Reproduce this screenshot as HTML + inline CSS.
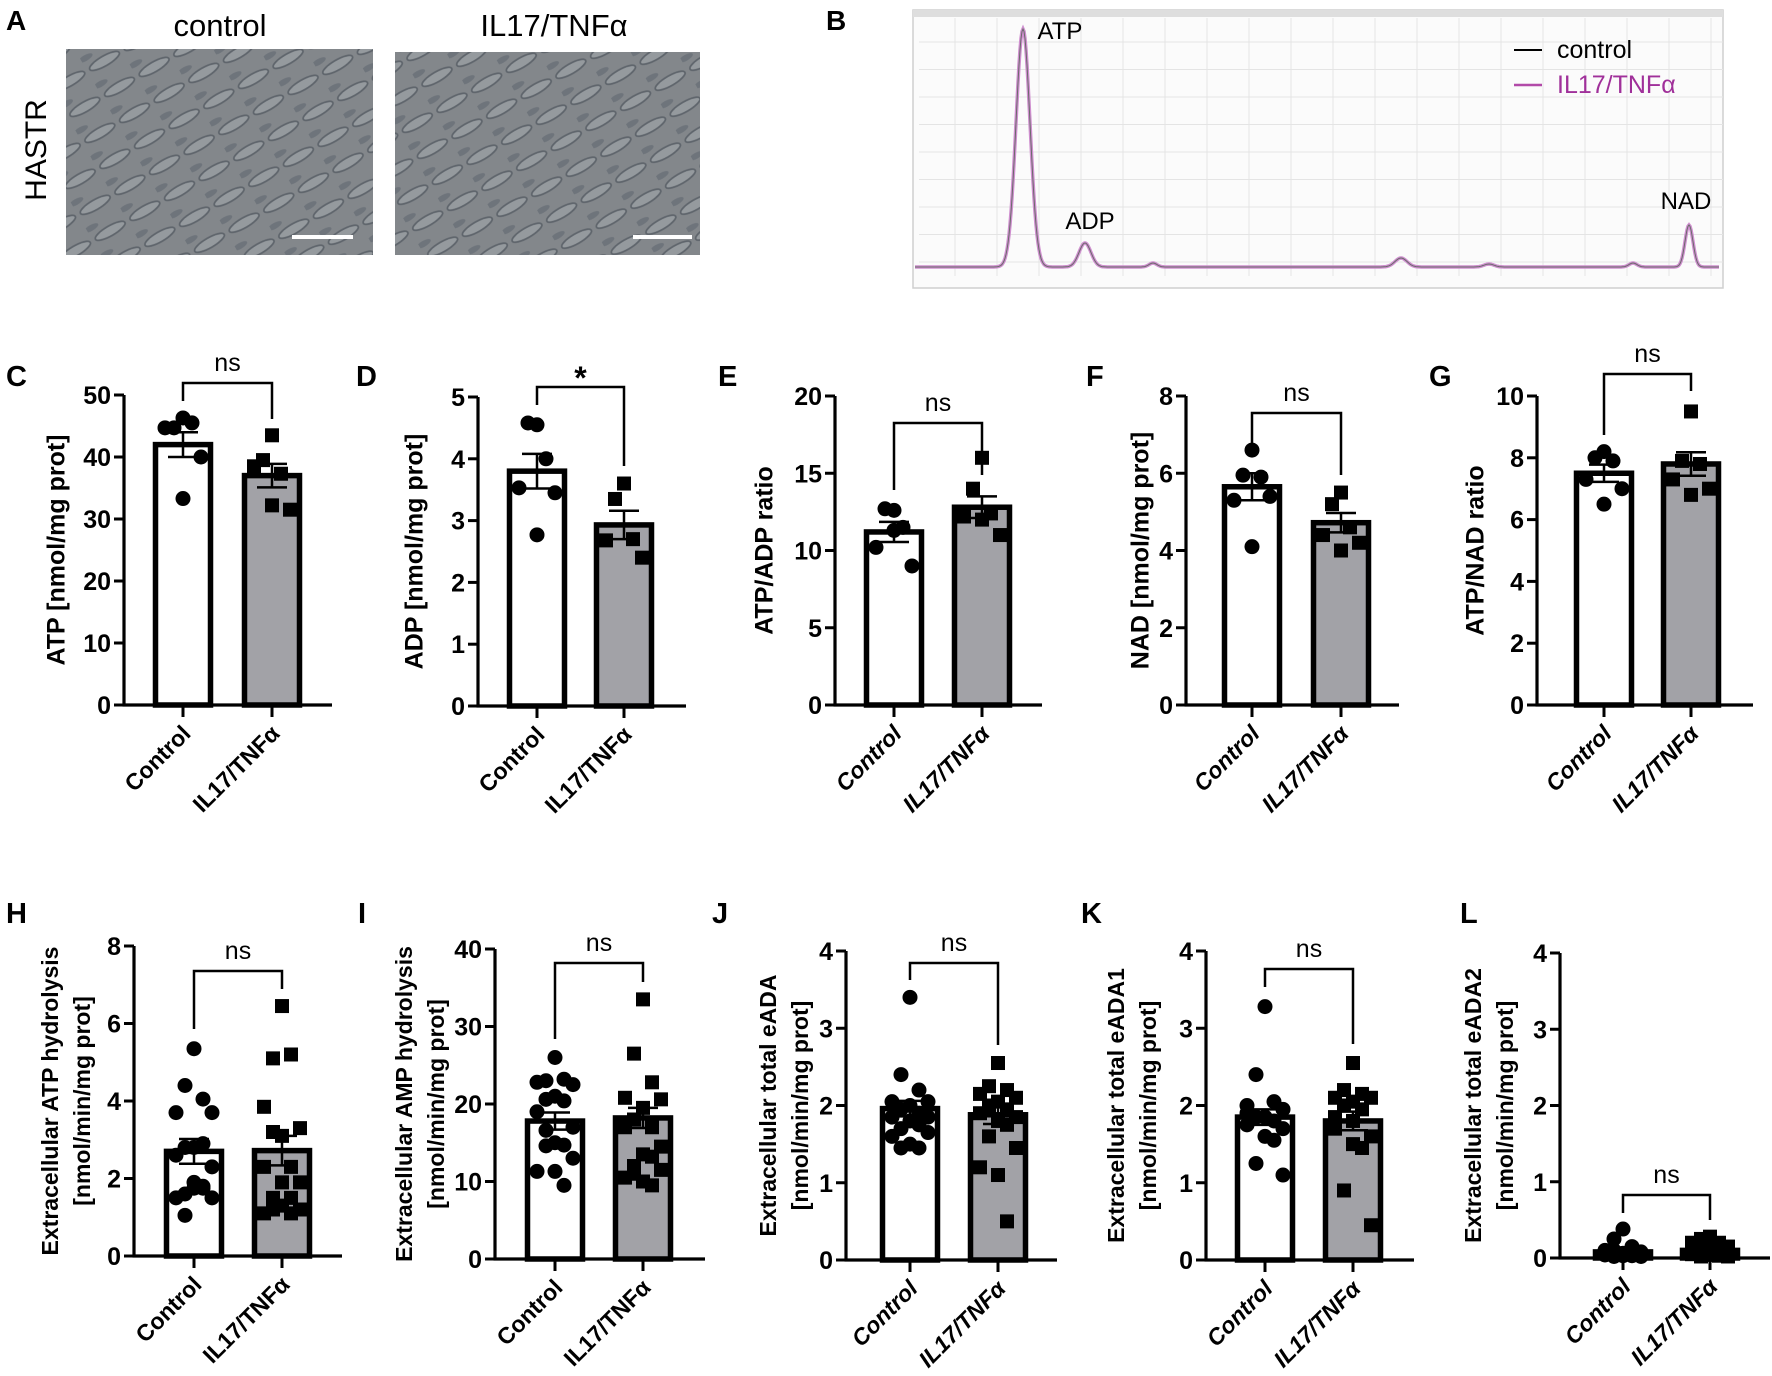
<!DOCTYPE html>
<html><head><meta charset="utf-8"><style>
body{margin:0;background:#fff}
svg{display:block}
text{font-family:"Liberation Sans",Arial,sans-serif}
</style></head><body>
<svg id="fig" width="1772" height="1376" viewBox="0 0 1772 1376" xmlns="http://www.w3.org/2000/svg">
<defs>
<pattern id="cells" width="40" height="30" patternUnits="userSpaceOnUse" patternTransform="rotate(-30)">
<rect width="40" height="30" fill="#83878b"/>
<ellipse cx="20" cy="15" rx="17" ry="5" fill="#959a9e" stroke="#5f656c" stroke-width="1.8"/>
<ellipse cx="5" cy="3" rx="8" ry="3" fill="#6e747b"/>
</pattern>
</defs>
<g id="panelA">
<text x="6" y="30" font-size="28" font-weight="bold">A</text>
<text x="220" y="36" font-size="31" text-anchor="middle">control</text>
<text x="554" y="36" font-size="31" text-anchor="middle">IL17/TNFα</text>
<text transform="translate(46,150) rotate(-90)" font-size="30" text-anchor="middle">HASTR</text>
<rect x="66" y="49" width="307" height="206" fill="url(#cells)"/>
<rect x="395" y="52" width="305" height="203" fill="url(#cells)"/>
<rect x="292" y="235" width="61" height="4" fill="#fff"/>
<rect x="633" y="235" width="59" height="4" fill="#fff"/>
</g>
<g id="panelB">
<text x="826" y="30" font-size="28" font-weight="bold">B</text>
</g>
<g id="charts"></g>
</svg>
<script>
// ---- chromatogram data ----
const peakPos=[1023,1085,1153,1401,1489,1633,1689];
const peakHeight=[238,24,4,9,3,4,42];
const peakWidth=[7,6,4,6,5,4,4];
// ---- bar chart data ----
const panelNames=["C","D","E","F","G","H","I","J","K","L"];
const yTitles=[["ATP [nmol/mg prot]"],["ADP [nmol/mg prot]"],["ATP/ADP ratio"],["NAD [nmol/mg prot]"],["ATP/NAD ratio"],
["Extracellular ATP hydrolysis","[nmol/min/mg prot]"],["Extracellular AMP hydrolysis","[nmol/min/mg prot]"],
["Extracellular total eADA","[nmol/min/mg prot]"],["Extracellular total eADA1","[nmol/min/mg prot]"],["Extracellular total eADA2","[nmol/min/mg prot]"]];
const yMax=[50,5,20,8,10,8,40,4,4,4];
const yStep=[10,1,5,2,2,2,10,1,1,1];
const sigLabels=["ns","*","ns","ns","ns","ns","ns","ns","ns","ns"];
const categories=["Control","IL17/TNFα"];
const ctrlMean=[42,3.8,11.2,5.65,7.5,2.7,17.8,1.96,1.85,0.08];
const ilMean=[37,2.93,12.8,4.72,7.8,2.72,18.2,1.88,1.8,0.1];
const ctrlErr=[2,0.28,0.65,0.35,0.28,0.32,1.1,0.1,0.1,0.03];
const ilErr=[1.9,0.23,0.7,0.25,0.38,0.38,1.3,0.12,0.12,0.03];
const ctrlPts=[
[46.3,44.7,45.5,44.7,40,33.3],
[4.55,4.58,4.0,3.53,3.45,2.77],
[12.6,12.7,11.5,10.2,9.0,11.3],
[6.6,5.95,5.9,5.3,5.4,4.1],
[8.2,8.0,7.9,7.3,7.0,6.5],
[5.35,4.4,4.05,3.7,3.7,2.8,2.8,2.9,2.6,2.3,1.75,1.75,1.6,1.5,1.5,1.9,1.8,1.05],
[26,23,23.2,22.8,22.5,21,20.6,20.4,19,17,15,14.7,14.6,13,11.3,11.3,9.5,16.6],
[3.4,2.4,2.2,2.05,2.05,2.0,1.95,1.9,1.85,1.85,1.8,1.75,1.7,1.65,1.6,1.5,1.45,1.45],
[3.28,2.4,2.05,2.0,1.95,1.85,1.85,1.8,1.75,1.7,1.6,1.55,1.25,1.1,1.9,1.85],
[0.38,0.25,0.15,0.1,0.08,0.06,0.05,0.05,0.04,0.04,0.03,0.03,0.02,0.02,0.05,0.06,0.08,0.1]];
const ilPts=[
[43.5,39.5,37.3,38.5,31.5,32.2],
[3.6,3.35,2.7,2.68,2.4],
[16,14,12.4,12.2,11,12],
[5.5,5.2,4.6,4.4,4.2,4.0],
[9.5,7.9,7.8,7.3,7.0,6.8],
[6.45,5.1,5.2,3.85,3.3,3.1,3.2,2.3,2.3,1.9,1.9,1.5,1.5,1.2,1.1,1.3,1.1,1.2],
[33.5,26.5,22.8,20.8,20.6,19.5,18,17,17,14.5,13.5,13.2,12,11.5,10.5,10,9.5,11],
[2.55,2.25,2.2,2.15,2.1,2.05,2.0,1.95,1.9,1.85,1.8,1.75,1.6,1.45,1.2,1.1,0.5,2.0],
[2.55,2.2,2.15,2.1,2.1,2.05,2.0,1.95,1.7,1.6,1.5,1.45,0.9,0.45,1.85,1.8],
[0.28,0.25,0.2,0.2,0.15,0.12,0.1,0.08,0.06,0.05,0.04,0.03,0.02,0.02,0.05,0.06,0.1,0.12]];
// ---- layout (pixels) ----
const L=[
{ax:124,c1:183,c2:272,r:332,y0:705,yt:395,lx:6,ly:386,tx:58,bt:383,bl:401,br:419,it:false},
{ax:478,c1:537,c2:624,r:686,y0:706,yt:397,lx:356,ly:386,tx:416,bt:387,bl:405,br:466,it:false},
{ax:835,c1:894,c2:982,r:1042,y0:705,yt:396,lx:718,ly:386,tx:766,bt:423,bl:490,br:475,it:true},
{ax:1186,c1:1252,c2:1341,r:1399,y0:705,yt:396,lx:1086,ly:386,tx:1142,bt:413,bl:447,br:475,it:true},
{ax:1537,c1:1604,c2:1691,r:1753,y0:705,yt:396,lx:1429,ly:386,tx:1477,bt:374,bl:435,br:391,it:true},
{ax:134,c1:194,c2:282,r:342,y0:1256,yt:946,lx:6,ly:923,tx:52,bt:971,bl:1029,br:989,it:false},
{ax:495,c1:555,c2:643,r:705,y0:1259,yt:949,lx:358,ly:923,tx:406,bt:963,bl:1039,br:982,it:false},
{ax:846,c1:910,c2:998,r:1057,y0:1260,yt:951,lx:712,ly:923,tx:770,bt:963,bl:980,br:1045,it:true},
{ax:1206,c1:1265,c2:1353,r:1414,y0:1260,yt:951,lx:1081,ly:923,tx:1118,bt:969,bl:987,br:1044,it:true},
{ax:1560,c1:1623,c2:1710,r:1770,y0:1258,yt:953,lx:1460,ly:923,tx:1475,bt:1195,bl:1213,br:1220,it:true}];
const jit=[0,-1,1,-2,2,0,-1,1,-2,2,0,1,-1,2,-2,0,1,-1];
const NS="http://www.w3.org/2000/svg";
function mk(tag,attrs,parent){const e=document.createElementNS(NS,tag);for(const k in attrs)e.setAttribute(k,attrs[k]);parent.appendChild(e);return e;}

// chromatogram
const B=document.getElementById('panelB');
const bx0=913,bx1=1723,by0=10,by1=288,base=267;
let frame=mk('rect',{x:bx0,y:by0,width:bx1-bx0,height:by1-by0,fill:'#fbfbfb',stroke:'#cfcfcf','stroke-width':1.5},B);


let topbar=mk('rect',{x:bx0,y:by0,width:bx1-bx0,height:7,fill:'#dedede'},B);


for(let x=bx0+42;x<bx1;x+=42){let g=mk('line',{x1:x,x2:x,y1:by0+8,y2:by1-12,stroke:'#e4e4e4','stroke-width':1},B);}
for(let y=42;y<by1-12;y+=27.5){let g=mk('line',{x1:bx0+6,x2:bx1,y1:y,y2:y,stroke:'#e4e4e4','stroke-width':1},B);}
function chromY(x){let v=0;for(let i=0;i<peakPos.length;i++){v+=peakHeight[i]*Math.exp(-Math.pow((x-peakPos[i])/peakWidth[i],2)/2);}return base-v;}
let d='';for(let x=bx0+2;x<=bx1-4;x+=1){d+=(x===bx0+2?'M':'L')+x+','+chromY(x).toFixed(1);}
let trA=mk('path',{d:d,fill:'none',stroke:'#cf8fcf','stroke-width':3.5},B);


let trB=mk('path',{d:d,fill:'none',stroke:'#6a6a6a','stroke-width':1},B);


const peakNames=["ATP","ADP","NAD"];const peakIdx=[0,1,6];const peakDX=[37,5,-3];const peakDY=[-8,-14,-16];
peakNames.forEach((n,i)=>{const p=peakIdx[i];let t=mk('text',{x:peakPos[p]+peakDX[i],y:chromY(peakPos[p])+peakDY[i]+(i===0?18:0),'font-size':24,'text-anchor':'middle'},B);t.textContent=n;

});
let lg1=mk('line',{x1:1514,x2:1542,y1:50,y2:50,stroke:'#000','stroke-width':2},B);


let lt1=mk('text',{x:1557,y:58,'font-size':25},B);lt1.textContent='control';


let lg2=mk('line',{x1:1514,x2:1542,y1:85,y2:85,stroke:'#b24aa8','stroke-width':2.5},B);


let lt2=mk('text',{x:1557,y:93,'font-size':25,fill:'#a0309a'},B);lt2.textContent='IL17/TNFα';



// bar charts
const C=document.getElementById('charts');
panelNames.forEach((name,p)=>{
  const c=L[p];
  const g=mk('g',{},C);
  
  
  const sy=v=>c.y0-(v/yMax[p])*(c.y0-c.yt);
  let lab=mk('text',{x:c.lx,y:c.ly,'font-size':29,'font-weight':'bold'},g);lab.textContent=name;
  
  
  const lines=yTitles[p];const fs=lines.length>1?23:25;
  const tcy=(c.y0+c.yt)/2;
  lines.forEach((ln,i)=>{const x=lines.length>1?c.tx+i*32:c.tx;
    let t=mk('text',{transform:`translate(${x},${tcy}) rotate(-90)`,'font-size':fs,'font-weight':'bold','text-anchor':'middle','dominant-baseline':'middle'},g);t.textContent=ln;
    
    });
  const means=[ctrlMean[p],ilMean[p]],errs=[ctrlErr[p],ilErr[p]],cx=[c.c1,c.c2],pts=[ctrlPts[p],ilPts[p]];
  for(let k=0;k<2;k++){
    let b=mk('rect',{x:cx[k]-27.5,y:sy(means[k]),width:55,height:c.y0-sy(means[k]),fill:k?'#a2a2a7':'#fff',stroke:'#000','stroke-width':5.5},g);
    
    
  }
  for(let k=0;k<2;k++){
    pts[k].forEach((v,i)=>{const x=cx[k]+jit[i%jit.length]*9;const y=sy(v);let m;
      if(k===0)m=mk('circle',{cx:x,cy:y,r:7.5,fill:'#000'},g);
      else m=mk('rect',{x:x-7,y:y-7,width:14,height:14,fill:'#000'},g);
      
      });
    const e=mk('path',{d:`M${cx[k]},${sy(means[k]-errs[k])}V${sy(means[k]+errs[k])}M${cx[k]-15},${sy(means[k]+errs[k])}h30M${cx[k]-15},${sy(means[k]-errs[k])}h30`,stroke:'#000','stroke-width':2.5,fill:'none'},g);
    
    
  }
  let ya=mk('line',{x1:c.ax,x2:c.ax,y1:c.yt,y2:c.y0+1.5,stroke:'#000','stroke-width':3.2},g);
  
  
  let xa=mk('line',{x1:c.ax-1.5,x2:c.r,y1:c.y0,y2:c.y0,stroke:'#000','stroke-width':3.2},g);
  
  
  for(let v=0;v<=yMax[p]+1e-9;v+=yStep[p]){const y=sy(v);
    let tk=mk('line',{x1:c.ax-10,x2:c.ax,y1:y,y2:y,stroke:'#000','stroke-width':3},g);
    
    
    let tl=mk('text',{x:c.ax-13,y:y+9,'font-size':25,'font-weight':'bold','text-anchor':'end'},g);tl.textContent=String(Math.round(v*10)/10);
    
    }
  for(let k=0;k<2;k++){
    let tk=mk('line',{x1:cx[k],x2:cx[k],y1:c.y0,y2:c.y0+12,stroke:'#000','stroke-width':3},g);
    
    
    let tl=mk('text',{transform:`translate(${cx[k]+9},${c.y0+30}) rotate(-45)`,'font-size':23,'font-weight':'bold','font-style':c.it?'italic':'normal','text-anchor':'end'},g);
    tl.textContent=categories[k];
    
    
  }
  let br=mk('path',{d:`M${c.c1},${c.bl}V${c.bt}H${c.c2}V${c.br}`,fill:'none',stroke:'#000','stroke-width':2.5},g);
  
  
  let st=mk('text',{x:(c.c1+c.c2)/2,y:c.bt-(sigLabels[p]==='*'?-2:12),'font-size':sigLabels[p]==='*'?32:25,'font-weight':sigLabels[p]==='*'?'bold':'normal','text-anchor':'middle'},g);
  st.textContent=sigLabels[p];
  
  
});
</script>
</body></html>
